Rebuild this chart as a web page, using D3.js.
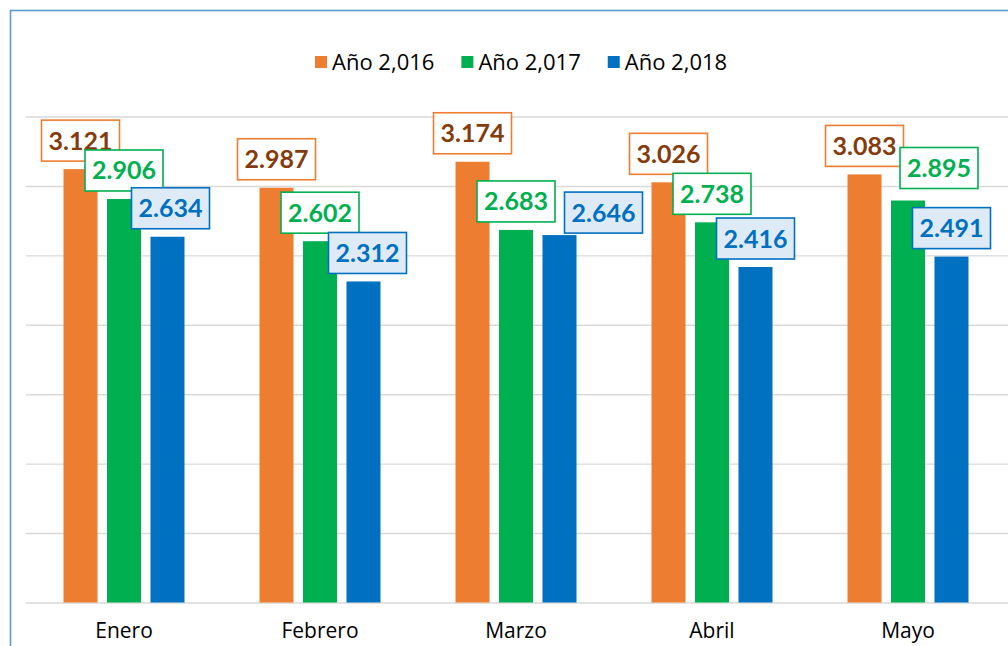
<!DOCTYPE html>
<html>
<head>
<meta charset="utf-8">
<script src="https://cdn.jsdelivr.net/npm/d3@7"></script>
<style>
  html, body { margin: 0; padding: 0; background: #fff; overflow: hidden; }
  svg { display: block; }
</style>
</head>
<body>
<div id="chart"></div>
<script>
// Data
const months = ["Enero", "Febrero", "Marzo", "Abril", "Mayo"];
const series = ["Año 2,016", "Año 2,017", "Año 2,018"];
const values2016 = [3.121, 2.987, 3.174, 3.026, 3.083];
const values2017 = [2.906, 2.602, 2.683, 2.738, 2.895];
const values2018 = [2.634, 2.312, 2.646, 2.416, 2.491];
const yTicks = [0, 0.5, 1, 1.5, 2, 2.5, 3, 3.5];

const seriesValues = [values2016, values2017, values2018];

// Styles per series: bar colour, label text, label border, label fill
const styles = [
  { bar: "#ED7D31", text: "#843C0C", stroke: "#ED7D31", fill: "#FFFFFF" },
  { bar: "#00B050", text: "#00B050", stroke: "#00B050", fill: "#FFFFFF" },
  { bar: "#0070C0", text: "#0070C0", stroke: "#0070C0", fill: "#DEEBF7" }
];

// Labels that were dragged by hand in the original (series index, month index, dx, dy)
const labelNudges = [
  [2, 0, 3, 0],
  [2, 1, 4, 0],
  [2, 2, 44, 6],
  [1, 4, 31, -4]
];

const width = 1008, height = 646;
const margin = { top: 116.5, left: 26, right: 2, bottom: 43.5 };

const svg = d3.select("#chart").append("svg")
  .attr("width", width)
  .attr("height", height);

// Chart area border (runs off the right and bottom edges)
svg.append("rect")
  .attr("x", 10.5).attr("y", 10.5)
  .attr("width", 1100).attr("height", 700)
  .attr("fill", "none")
  .attr("stroke", "#5B9BD5")
  .attr("stroke-width", 1.6);

const x0 = d3.scaleBand()
  .domain(months)
  .range([margin.left, width - margin.right])
  .padding(0);

const groupWidth = 121;
const x1 = d3.scaleBand()
  .domain(d3.range(series.length))
  .range([(x0.bandwidth() - groupWidth) / 2, (x0.bandwidth() + groupWidth) / 2])
  .paddingInner(0.218);

const y = d3.scaleLinear()
  .domain([0, 3.5])
  .range([height - margin.bottom, margin.top]);

// Gridlines
const yAxis = d3.axisLeft(y)
  .tickValues(yTicks)
  .tickSize(-(width - margin.left - margin.right + 2))
  .tickFormat("");

const grid = svg.append("g")
  .attr("transform", `translate(${margin.left},0)`)
  .call(yAxis);
grid.select(".domain").remove();
grid.selectAll(".tick line")
  .attr("stroke", "#D9D9D9")
  .attr("stroke-width", 1.4);

// Bars
const groups = svg.append("g").selectAll("g")
  .data(months)
  .join("g")
  .attr("transform", d => `translate(${x0(d)},0)`);

groups.selectAll("rect")
  .data((m, i) => seriesValues.map((vals, s) => ({ s, m, i, v: vals[i] })))
  .join("rect")
  .attr("x", d => x1(d.s))
  .attr("width", x1.bandwidth())
  .attr("y", d => y(d.v))
  .attr("height", d => y(0) - y(d.v))
  .attr("fill", d => styles[d.s].bar);

// Category axis labels
const xAxis = d3.axisBottom(x0).tickSize(0).tickPadding(21);
const xg = svg.append("g")
  .attr("transform", `translate(0,${y(0)})`)
  .call(xAxis);
xg.select(".domain").remove();
xg.selectAll("text")
  .attr("font-family", "'Open Sans', sans-serif")
  .attr("font-size", 21)
  .attr("fill", "#000");

// Data labels
const boxW = 78, boxH = 41, gap = 8;
const labels = svg.append("g");
seriesValues.forEach((vals, s) => {
  vals.forEach((v, i) => {
    const nudge = labelNudges.find(n => n[0] === s && n[1] === i) || [s, i, 0, 0];
    const cx = x0(months[i]) + x1(s) + x1.bandwidth() / 2 + nudge[2];
    const bottom = y(v) - gap + nudge[3];
    const g = labels.append("g")
      .attr("transform", `translate(${cx},${bottom - boxH / 2})`);
    g.append("rect")
      .attr("x", -boxW / 2).attr("y", -boxH / 2)
      .attr("width", boxW).attr("height", boxH)
      .attr("fill", styles[s].fill)
      .attr("stroke", styles[s].stroke)
      .attr("stroke-width", 1.6);
    g.append("text")
      .attr("text-anchor", "middle")
      .attr("dy", "0.36em")
      .attr("font-family", "Lato, sans-serif")
      .attr("font-weight", "bold")
      .attr("font-size", 25)
      .attr("fill", styles[s].text)
      .text(d3.format(".3f")(v));
  });
});

// Legend
const legend = svg.append("g").attr("transform", "translate(315,62)");
let lx = 0;
series.forEach((name, s) => {
  const item = legend.append("g").attr("transform", `translate(${lx},0)`);
  item.append("rect")
    .attr("x", 0).attr("y", -6)
    .attr("width", 12).attr("height", 12)
    .attr("fill", styles[s].bar);
  const t = item.append("text")
    .attr("x", 17)
    .attr("dy", "0.35em")
    .attr("font-family", "'Open Sans', sans-serif")
    .attr("font-size", 22)
    .attr("fill", "#000")
    .text(name);
  lx += 17 + t.node().getComputedTextLength() + 27;
});
</script>
</body>
</html>
